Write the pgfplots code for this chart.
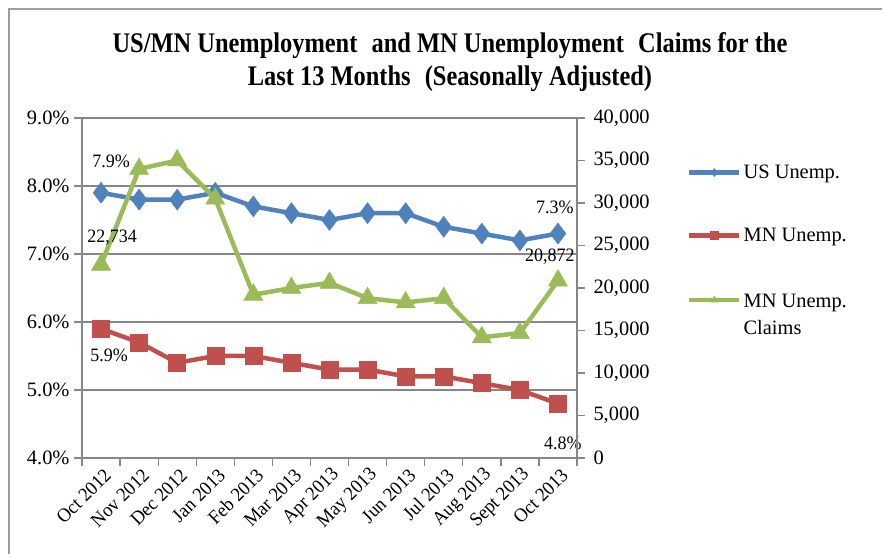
\documentclass[border=0pt]{standalone}
\usepackage{pgfplots}
\pgfplotsset{compat=1.18}
\usepackage{fontspec}
\setmainfont{Liberation Serif}
\newfontfamily\titlefont[FakeStretch=0.86]{Liberation Serif}
\newfontfamily\lblfont[FakeStretch=0.95]{Liberation Serif}
\definecolor{usblue}{HTML}{4F81BD}
\definecolor{mnred}{HTML}{C0504D}
\definecolor{mngreen}{HTML}{9BBB59}
\definecolor{axgray}{HTML}{868686}
\pgfplotsset{
  base/.style={
    scale only axis, width=495bp, height=340bp,
    at={(82bp,96bp)}, anchor=south west,
    xmin=-0.5, xmax=12.5,
    tick align=outside,
    axis line style={axgray, line width=1.3bp},
    every tick/.style={axgray, line width=1.3bp},
    major tick length=8bp, minor tick length=8bp,
    /pgf/number format/assume math mode=true,
    tick label style={font=\fontsize{20.5}{22}\selectfont},
    clip=false,
  },
  usstyle/.style={usblue, line width=4.5bp, mark=diamond*, mark size=10.5bp, mark options={solid, line width=0.5bp, fill=usblue}},
  mnstyle/.style={mnred, line width=4.5bp, mark=square*, mark size=8.5bp, mark options={solid, line width=0.5bp, fill=mnred}},
  clstyle/.style={mngreen, line width=4.5bp, mark=triangle*, mark size=11bp, mark options={solid, line width=0.5bp, fill=mngreen}},
}
\begin{document}
\begin{tikzpicture}[x=1bp,y=1bp]
\useasboundingbox (0,0) rectangle (882,554);
\draw[axgray!80, line width=1.3bp] (9,0) -- (9,545) -- (882,545);
\node[align=center, font=\titlefont\bfseries\fontsize{28.5}{33}\selectfont] at (450,492)
  {US/MN Unemployment\enspace and MN Unemployment\enspace Claims for the\\Last 13 Months\enspace(Seasonally Adjusted)};
\begin{axis}[base,
  ymin=4, ymax=9, ytick={4,5,6,7,8,9},
  yticklabel={\pgfmathprintnumber[fixed,fixed zerofill,precision=1]{\tick}\%},
  y tick label style={xshift=-1bp},
  ymajorgrids, grid style={axgray, line width=1.3bp},
  xtick={0,...,12},
  xticklabels={Oct 2012,Nov 2012,Dec 2012,Jan 2013,Feb 2013,Mar 2013,Apr 2013,May 2013,Jun 2013,Jul 2013,Aug 2013,Sept 2013,Oct 2013},
  major x tick style={draw=none},
  minor xtick={-0.5,0.5,...,12.5},
  x tick label style={rotate=45, anchor=east, font=\lblfont\fontsize{19.5}{20}\selectfont, yshift=-9bp, xshift=4bp},
  axis y line*=left, axis x line*=bottom,
]
\addplot[usstyle] coordinates {(0,7.9)(1,7.8)(2,7.8)(3,7.9)(4,7.7)(5,7.6)(6,7.5)(7,7.6)(8,7.6)(9,7.4)(10,7.3)(11,7.2)(12,7.3)};
\addplot[mnstyle] coordinates {(0,5.9)(1,5.7)(2,5.4)(3,5.5)(4,5.5)(5,5.4)(6,5.3)(7,5.3)(8,5.2)(9,5.2)(10,5.1)(11,5.0)(12,4.8)};
\node[font=\lblfont\fontsize{19}{20}\selectfont] at (axis cs:0,7.9) [xshift=10bp, yshift=31bp] {7.9\%};
\node[font=\lblfont\fontsize{19}{20}\selectfont] at (axis cs:0,5.9) [xshift=8bp, yshift=-27bp] {5.9\%};
\node[font=\lblfont\fontsize{19}{20}\selectfont] at (axis cs:12,7.3) [xshift=-3bp, yshift=26bp] {7.3\%};
\node[font=\lblfont\fontsize{19}{20}\selectfont] at (axis cs:12,4.8) [xshift=5bp, yshift=-40bp] {4.8\%};
\end{axis}
\begin{axis}[base,
  ymin=0, ymax=40000, ytick={0,5000,...,40000},
  scaled y ticks=false,
  yticklabel style={/pgf/number format/1000 sep={,}, xshift=5bp},
  axis y line*=right, axis x line=none,
  legend style={at={(axis description cs:1.222,0.868)}, anchor=north west, draw=none, fill=none,
    font=\fontsize{20.5}{24}\selectfont, row sep=44bp,
    cells={anchor=west}, inner sep=0pt},
  legend cell align=left,
  legend image code/.code={\draw[mark repeat=2,mark phase=2, mark size=4bp] plot coordinates {(0bp,0bp) (25bp,0bp) (50bp,0bp)};},
]
\addlegendimage{usstyle}
\addlegendentry{US Unemp.}
\addlegendimage{mnstyle}
\addlegendentry{MN Unemp.}
\addplot[clstyle] coordinates {(0,22734)(1,34000)(2,35000)(3,30500)(4,19200)(5,20000)(6,20600)(7,18800)(8,18300)(9,18800)(10,14200)(11,14700)(12,20872)};
\addlegendentry{\begin{tabular}[t]{@{}l@{}}MN Unemp.\\[3bp]Claims\end{tabular}}
\node[font=\lblfont\fontsize{19}{20}\selectfont] at (axis cs:0,22734) [xshift=11bp, yshift=27bp] {22,734};
\node[font=\lblfont\fontsize{19}{20}\selectfont] at (axis cs:12,20872) [xshift=-8bp, yshift=24bp] {20,872};
\end{axis}
\end{tikzpicture}
\end{document}
